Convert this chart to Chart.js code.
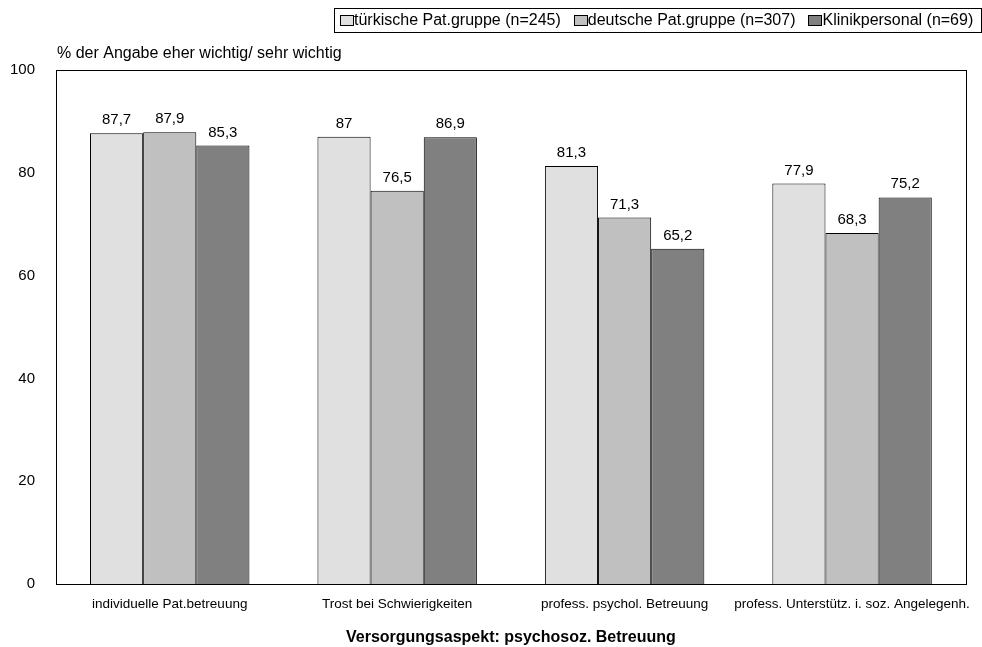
<!DOCTYPE html>
<html>
<head>
<meta charset="utf-8">
<script src="https://cdn.jsdelivr.net/npm/chart.js@4/dist/chart.umd.min.js"></script>
<style>
  html, body { margin: 0; padding: 0; background: #fff; }
  #wrap { width: 982px; height: 647px; }
</style>
</head>
<body>
<div id="wrap"><canvas id="myChart" width="982" height="647"></canvas></div>
<script>
const categories = ['individuelle Pat.betreuung', 'Trost bei Schwierigkeiten', 'profess. psychol. Betreuung', 'profess. Unterstütz. i. soz. Angelegenh.'];
const tuerkisch = [87.7, 87, 81.3, 77.9];
const deutsch = [87.9, 76.5, 71.3, 68.3];
const personal = [85.3, 86.9, 65.2, 75.2];
const seriesNames = ['türkische Pat.gruppe (n=245)', 'deutsche Pat.gruppe (n=307)', 'Klinikpersonal (n=69)'];
const yTicks = [0, 20, 40, 60, 80, 100];

const FONT = "'Liberation Sans', Arial, sans-serif";

// value above each bar, decimal comma
const barValues = {
  id: 'barValues',
  afterDatasetsDraw(chart) {
    const c = chart.ctx;
    c.save();
    c.font = '15px ' + FONT;
    c.fillStyle = '#000';
    c.textAlign = 'center';
    c.textBaseline = 'alphabetic';
    chart.data.datasets.forEach((ds, i) => {
      chart.getDatasetMeta(i).data.forEach((bar, j) => {
        c.fillText(String(ds.data[j]).replace('.', ','), bar.x, bar.y - 9);
      });
    });
    c.restore();
  }
};

// frame round the plot, axis caption, boxed legend top right
const frame = {
  id: 'frame',
  beforeDatasetsDraw(chart) {
    const a = chart.chartArea, c = chart.ctx;
    c.save();
    c.strokeStyle = '#000';
    c.lineWidth = 1;
    c.strokeRect(Math.round(a.left) + 0.5, Math.round(a.top) + 0.5, Math.round(a.right - a.left), Math.round(a.bottom - a.top));
    c.font = '16px ' + FONT;
    c.fillStyle = '#000';
    c.textBaseline = 'middle';
    c.fillText('% der Angabe eher wichtig/ sehr wichtig', a.left + 1, 54);
    c.restore();
  },
  afterDraw(chart) {
    const c = chart.ctx;
    c.save();
    c.font = '16px ' + FONT;
    const ds = chart.data.datasets;
    const sqW = 14, sqH = 11, itemGap = 13, padL = 6, padR = 8;
    const widths = ds.map(d => c.measureText(d.label).width);
    const total = padL + padR + widths.reduce((s, w) => s + sqW + w, 0) + itemGap * (ds.length - 1);
    const right = 981, top = 8, h = 24;
    const left = Math.round(right - total);
    c.strokeStyle = '#000';
    c.lineWidth = 1;
    c.fillStyle = '#fff';
    c.fillRect(left, top, right - left, h);
    c.strokeRect(left + 0.5, top + 0.5, right - left, h);
    let x = left + padL;
    const cy = top + h / 2 + 0.5;
    ds.forEach((d, i) => {
      const sx = Math.round(x) + 0.5, sy = Math.round(cy - sqH / 2) + 0.5;
      c.fillStyle = d.backgroundColor;
      c.fillRect(sx, sy, sqW - 1, sqH - 1);
      c.strokeRect(sx, sy, sqW - 1, sqH - 1);
      x += sqW;
      c.fillStyle = '#000';
      c.textBaseline = 'middle';
      c.fillText(d.label, x, cy);
      x += widths[i] + itemGap;
    });
    c.restore();
  }
};

const ctx = document.getElementById('myChart');

new Chart(ctx, {
  type: 'bar',
  data: {
    labels: categories,
    datasets: [
      { label: seriesNames[0], data: tuerkisch, backgroundColor: '#e0e0e0' },
      { label: seriesNames[1], data: deutsch, backgroundColor: '#c0c0c0' },
      { label: seriesNames[2], data: personal, backgroundColor: '#808080' }
    ].map(d => Object.assign(d, {
      borderColor: '#000',
      borderWidth: 1,
      borderSkipped: 'bottom',
      categoryPercentage: 0.701,
      barPercentage: 1
    }))
  },
  plugins: [frame, barValues],
  options: {
    responsive: false,
    animation: false,
    layout: { padding: { top: 70, right: 1, left: 0, bottom: 0 } },
    plugins: {
      legend: { display: false },
      tooltip: { enabled: false }
    },
    scales: {
      x: {
        grid: { display: false, drawTicks: false },
        border: { display: false },
        ticks: { color: '#000', font: { size: 13.5, family: FONT }, padding: 12, maxRotation: 0, autoSkip: false },
        title: {
          display: true,
          text: 'Versorgungsaspekt: psychosoz. Betreuung',
          color: '#000',
          font: { size: 16, weight: 'bold', family: FONT },
          padding: { top: 10, bottom: 0 }
        },
        afterFit: s => { s.height = 63; }
      },
      y: {
        min: 0,
        max: 100,
        afterBuildTicks: s => { s.ticks = yTicks.map(v => ({ value: v })); },
        grid: { display: false, drawTicks: false },
        border: { display: false },
        ticks: { color: '#000', font: { size: 15, family: FONT }, padding: 21 },
        afterFit: s => { s.width = 56; }
      }
    }
  }
});
</script>
</body>
</html>
